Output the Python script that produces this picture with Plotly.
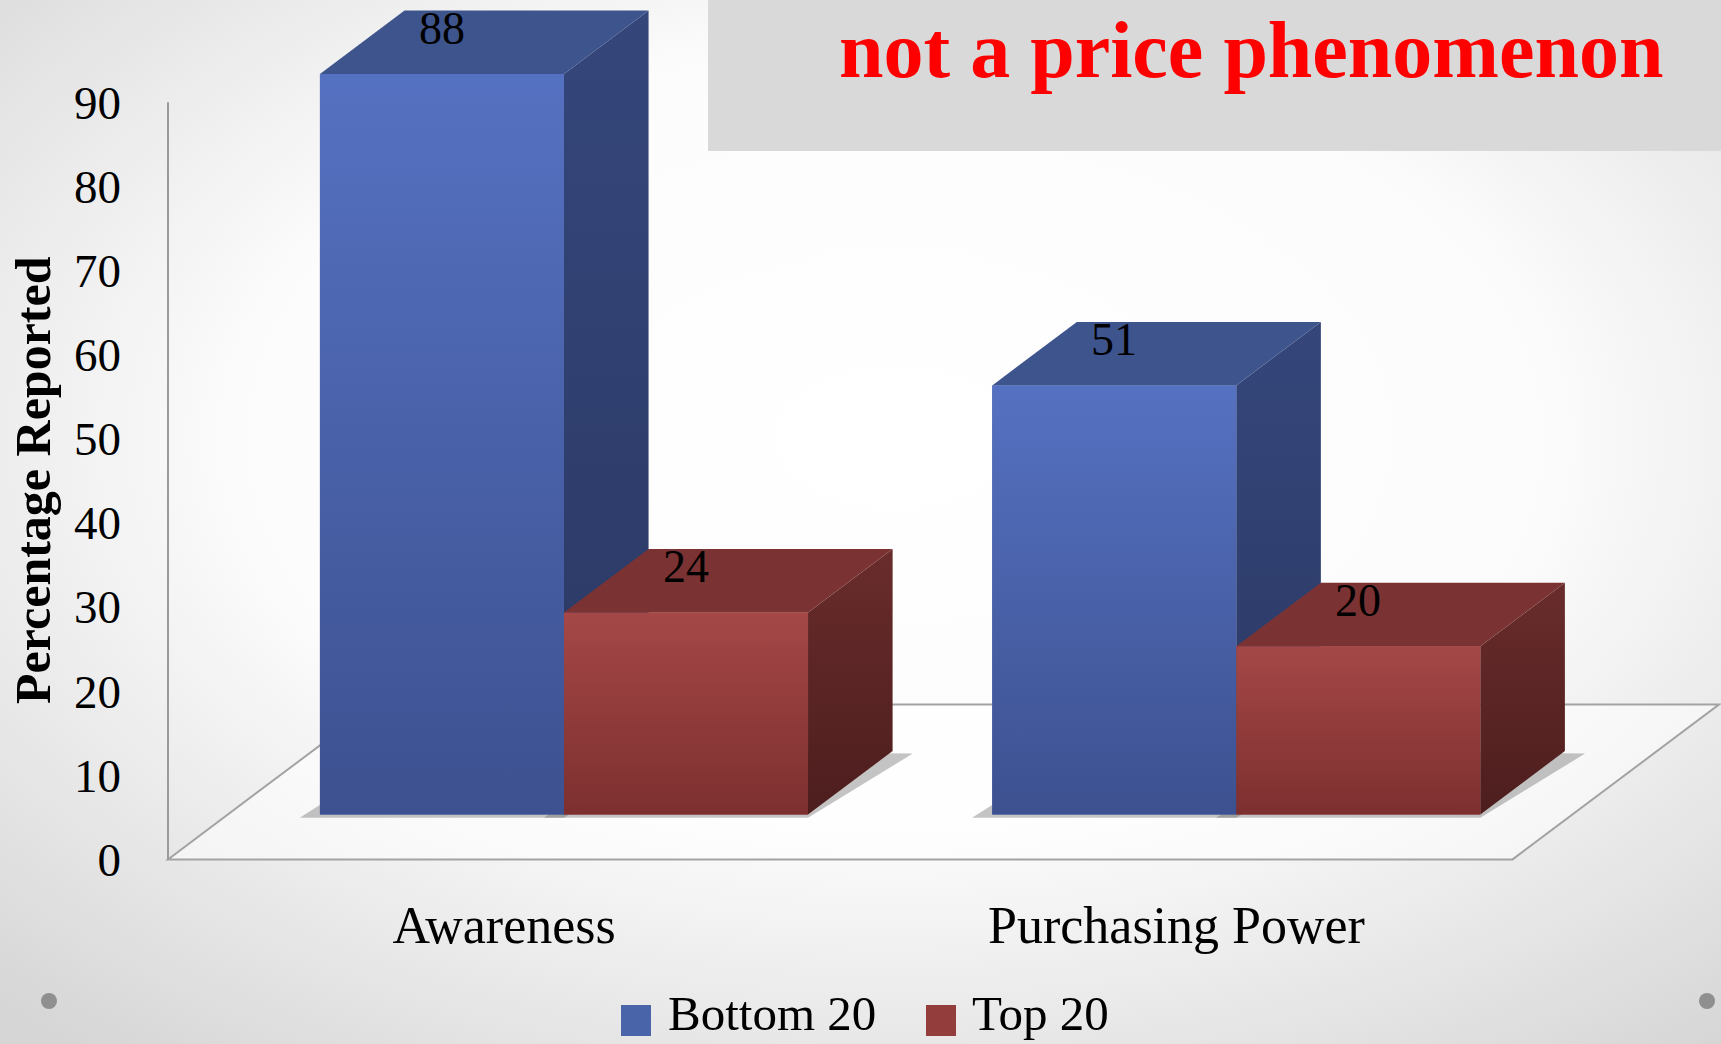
import base64
import plotly.graph_objects as go

# ---------------- data ----------------
categories = ["Awareness", "Purchasing Power"]
series_names = ["Bottom 20", "Top 20"]
bottom_20 = [88, 51]
top_20 = [24, 20]
y_tick_values = [0, 10, 20, 30, 40, 50, 60, 70, 80, 90]
y_tick_labels = ["0", "10", "20", "30", "40", "50", "60", "70", "80", "90"]
title_text = "not a price phenomenon"
y_title_text = "Percentage Reported"

# ---------------- styling / layout constants ----------------
W, H = 1721, 1044
M_L, M_R, M_T, M_B = 150, 0, 0, 164
PW, PH = W - M_L - M_R, H - M_T - M_B
PX_X = 672.3          # pixels per category unit
PX_Y = 8.414          # pixels per percentage point
X_LO = -0.5 - 18 / PX_X
Y_LO = -20.6 / PX_Y
x_range = [X_LO, X_LO + PW / PX_X]
y_range = [Y_LO, Y_LO + PH / PX_Y]


def px(xp):
    """figure pixel x -> paper fraction (paper = plot area)"""
    return (xp - M_L) / PW


def py(yp):
    """figure pixel y (from top) -> paper fraction"""
    return 1 - (yp - M_T) / PH


def path_of(poly):
    return "M " + " L ".join(f"{x},{y}" for x, y in poly) + " Z"


FLOOR_DX = 206.3 / PX_X   # oblique depth of the floor (x units)
FLOOR_DY = 154.8 / PX_Y   # oblique depth of the floor (y units)
FRONT = 0.29              # bars' front plane, fraction of floor depth
DEPTH = 0.41              # bars' depth, fraction of floor depth
BW = 0.363                # bar width in category units

dx0, dy0 = FRONT * FLOOR_DX, FRONT * FLOOR_DY
ddx, ddy = DEPTH * FLOOR_DX, DEPTH * FLOOR_DY

FONT = "Liberation Serif"
styles = [
    dict(front="#4a64aa", front_bot="#3d5190", front_top="#5571c1",
         top="#3e548d", side_bot="#2a3862", side_top="#35467b"),
    dict(front="#943d3d", front_bot="#7d2f2f", front_top="#a54747",
         top="#7a3232", side_bot="#4d1d1d", side_top="#692c2c"),
]
series_values = [bottom_20, top_20]

fig = go.Figure()
shapes = []

# floor of the 3-D plot area
floor = [(-0.5, 0), (1.5, 0), (1.5 + FLOOR_DX, FLOOR_DY), (-0.5 + FLOOR_DX, FLOOR_DY)]
shapes.append(dict(type="path", xref="x", yref="y", layer="below", path=path_of(floor),
                   fillcolor="rgba(255,255,255,0.55)",
                   line=dict(color="#a3a3a3", width=2)))
# vertical value axis line
shapes.append(dict(type="line", xref="x", yref="y", layer="below",
                   x0=-0.5, x1=-0.5, y0=y_tick_values[0], y1=y_tick_values[-1],
                   line=dict(color="#9a9a9a", width=2)))

annotations = []
idx = list(range(len(categories)))
offsets = [dx0 - BW, dx0]

# front faces as real bars (data marks)
for s, (name, vals, st) in enumerate(zip(series_names, series_values, styles)):
    fig.add_trace(go.Bar(
        x=idx, y=vals, base=dy0, width=BW, offset=offsets[s], name=name,
        marker=dict(color=st["front"], line=dict(width=0)),
        showlegend=False, hoverinfo="name+y"))


def face(poly, c_bot, c_top, name):
    xs = [p[0] for p in poly] + [poly[0][0]]
    ys = [p[1] for p in poly] + [poly[0][1]]
    fig.add_trace(go.Scatter(
        x=xs, y=ys, mode="none", fill="toself", name=name,
        fillgradient=dict(type="vertical", colorscale=[[0, c_bot], [1, c_top]]),
        showlegend=False, hoverinfo="skip"))


# 3-D shading faces (side, top, shaded front) computed from the same values
for s, (name, vals, st) in enumerate(zip(series_names, series_values, styles)):
    for i, v in zip(idx, vals):
        x0 = i + offsets[s]
        x1 = x0 + BW
        y0 = dy0
        y1 = dy0 + v
        shadow = [(x0 - 0.03, y0 - 0.4), (x1, y0 - 0.4), (x1 + ddx + 0.03, y0 + ddy - 0.3),
                  (x0 + ddx, y0 + ddy)]
        shapes.append(dict(type="path", xref="x", yref="y", layer="below", path=path_of(shadow),
                           fillcolor="rgba(90,90,90,0.35)", line=dict(width=0)))
        side = [(x1, y0), (x1 + ddx, y0 + ddy), (x1 + ddx, y1 + ddy), (x1, y1)]
        top = [(x0, y1), (x1, y1), (x1 + ddx, y1 + ddy), (x0 + ddx, y1 + ddy)]
        front = [(x0, y0), (x1, y0), (x1, y1), (x0, y1)]
        face(side, st["side_bot"], st["side_top"], name)
        face(top, st["top"], st["top"], name)
        face(front, st["front_bot"], st["front_top"], name)
        annotations.append(dict(x=x0 + BW / 2, y=y1 + 0.72 * ddy, xref="x", yref="y",
                                text=str(v), showarrow=False, yanchor="middle",
                                font=dict(family=FONT, size=46, color="#000000")))

# title box + text
shapes.append(dict(type="rect", xref="paper", yref="paper", layer="above",
                   x0=px(708), x1=px(W), y0=py(151), y1=py(0),
                   fillcolor="#d9d9d9", line=dict(width=0)))
annotations.append(dict(x=px(1251), y=py(50), xref="paper", yref="paper",
                        text=f"<b>{title_text}</b>", showarrow=False,
                        xanchor="center", yanchor="middle",
                        font=dict(family=FONT, size=80, color="#ff0000")))
# y-axis title
annotations.append(dict(x=px(33), y=py(480), xref="paper", yref="paper",
                        text=f"<b>{y_title_text}</b>", showarrow=False, textangle=-90,
                        xanchor="center", yanchor="middle",
                        font=dict(family=FONT, size=50, color="#000000")))
# legend
legend_pos = [(621, 666), (926, 970)]
for (sq_x, tx), name, st in zip(legend_pos, series_names, styles):
    shapes.append(dict(type="rect", xref="paper", yref="paper", layer="above",
                       x0=px(sq_x), x1=px(sq_x + 30), y0=py(1036), y1=py(1005),
                       fillcolor=st["front"], line=dict(width=0)))
    annotations.append(dict(x=px(tx), y=py(1013), xref="paper", yref="paper",
                            text=name, showarrow=False, xanchor="left", yanchor="middle",
                            font=dict(family=FONT, size=49, color="#000000")))
# decorative slide dots
for cx in (49, 1707):
    shapes.append(dict(type="circle", xref="paper", yref="paper", layer="above",
                       x0=px(cx - 8), x1=px(cx + 8), y0=py(1009), y1=py(993),
                       fillcolor="#8f8f8f", line=dict(width=0)))

# slide background (radial gray gradient)
svg = ('<svg xmlns="http://www.w3.org/2000/svg" width="1721" height="1044" preserveAspectRatio="none">'
       '<defs><radialGradient id="g" cx="52%" cy="42%" r="75%">'
       '<stop offset="0" stop-color="#ffffff"/><stop offset="0.5" stop-color="#fcfcfc"/>'
       '<stop offset="1" stop-color="#d6d6d6"/></radialGradient></defs>'
       '<rect width="100%" height="100%" fill="url(#g)"/></svg>')
bg_src = "data:image/svg+xml;base64," + base64.b64encode(svg.encode()).decode()

fig.update_layout(
    width=W, height=H,
    margin=dict(l=M_L, r=M_R, t=M_T, b=M_B, autoexpand=False),
    paper_bgcolor="#f4f4f4", plot_bgcolor="rgba(0,0,0,0)",
    barmode="overlay", showlegend=False,
    shapes=shapes, annotations=annotations,
    images=[dict(source=bg_src, xref="paper", yref="paper", x=px(0), y=py(0),
                 sizex=W / PW, sizey=H / PH, sizing="stretch", layer="below",
                 xanchor="left", yanchor="top")],
    xaxis=dict(range=x_range, tickvals=idx, ticktext=categories, showgrid=False,
               zeroline=False, showline=False, ticks="", ticklabelstandoff=10,
               tickfont=dict(family=FONT, size=52, color="#000000"), fixedrange=True),
    yaxis=dict(range=y_range, tickvals=y_tick_values, ticktext=y_tick_labels,
               showgrid=False, zeroline=False, showline=False, ticks="",
               ticklabelstandoff=28,
               tickfont=dict(family=FONT, size=47, color="#000000"), fixedrange=True),
)

fig.write_html("out.html", config={"displayModeBar": False},
               post_script="document.body.style.margin='0';")
